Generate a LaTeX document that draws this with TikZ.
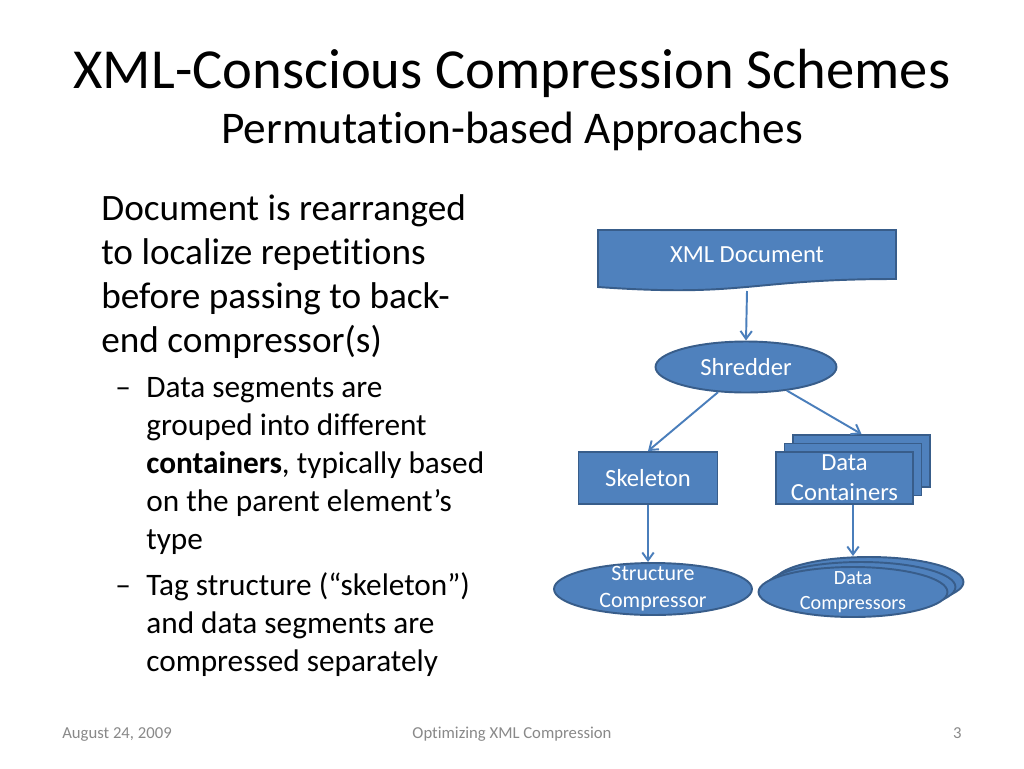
\documentclass[tikz,border=0pt]{standalone}
\usepackage{fontspec}
\setmainfont[Ligatures={NoCommon}]{Carlito}
\usetikzlibrary{arrows.meta, calc, positioning, shapes.geometric}
\definecolor{boxfill}{RGB}{79, 129, 189}
\definecolor{boxline}{RGB}{56, 93, 138}
\definecolor{arrowblue}{RGB}{74, 126, 187}
\definecolor{footgray}{RGB}{137, 137, 137}

\begin{document}
\begin{tikzpicture}[x=0.02cm, y=-0.02cm,
				titletext/.style={font=\fontsize{32.2}{38}\selectfont, anchor=base, inner sep=0pt},
				subtitletext/.style={font=\fontsize{25.8}{30}\selectfont, anchor=base, inner sep=0pt},
				bodyline/.style={font=\fontsize{21.2}{26}\selectfont, anchor=base west, inner sep=0pt},
				subline/.style={font=\fontsize{17.8}{21}\selectfont, anchor=base west, inner sep=0pt},
				footer/.style={font=\fontsize{9.5}{11}\selectfont, text=footgray, anchor=base, inner sep=0pt},
				procbox/.style={draw=boxline, fill=boxfill, line width=1.1pt, text=white,
					align=center, inner sep=1pt, font=\fontsize{14}{17}\selectfont},
				procoval/.style={ellipse, draw=boxline, fill=boxfill, line width=1.1pt, inner sep=0pt},
				ovaltext/.style={text=white, align=center, inner sep=0pt},
				arr/.style={-{Straight Barb[length=4.5pt, width=6.5pt]}, draw=arrowblue, line width=1.1pt}
				]
				\useasboundingbox[fill=white] (0,0) rectangle (1024,768);
				% heading
				\node[titletext] (title) at (512,88) {XML-Conscious Compression Schemes};
				\node[subtitletext] (subtitle) at (512,143) {Permutation-based Approaches};
				% left column
				\foreach \txt [count=\i from 0] in {Document is rearranged, to localize repetitions,
					before passing to back-, end compressor(s)}
				\node[bodyline] (body\i) at (101,220+44*\i) {\txt};
				\foreach \txt [count=\i from 0] in {Data segments are, grouped into different,
					{\textbf{containers}, typically based}, on the parent element’s, type}
				\node[subline] (segs\i) at (146,397+38*\i) {\txt};
				\foreach \txt [count=\i from 0] in {Tag structure (“skeleton”), and data segments are,
					compressed separately}
				\node[subline] (tags\i) at (146,595+38*\i) {\txt};
				\node[subline] (dashA) at (115,397) {–};
				\node[subline] (dashB) at (115,595) {–};
				% diagram
				\draw[boxline, fill=boxfill, line width=1.1pt] (598,230) -- (896,230)
				-- (896,279) .. controls (747,279) and (747,297.5) .. (598,287) -- cycle;
				\node[minimum width=5.96cm, minimum height=0.98cm, inner sep=0pt,
				text=white, font=\fontsize{14}{17}\selectfont] (xmldoc) at (747,254.5) {XML Document};
				\coordinate (docbot) at (747,291);
				\node[procoval, minimum width=3.62cm, minimum height=1.02cm,
				text=white, font=\fontsize{14}{17}\selectfont] (shred) at (746,367) {Shredder};
				\node[procbox, minimum width=2.78cm, minimum height=1.04cm] (skel) at (648,478) {Skeleton};
				\node[procbox, minimum width=2.74cm, minimum height=1.04cm] (cont3) at (861.5,461) {};
				\node[procbox, minimum width=2.74cm, minimum height=1.04cm] (cont2) at (853,469.5) {};
				\node[procbox, minimum width=2.74cm, minimum height=1.04cm] (cont) at (844.5,478)
				{Data\\Containers};
				\node[procoval, minimum width=3.96cm, minimum height=1.04cm,
				label={[ovaltext, font=\fontsize{12.5}{15.5}\selectfont]center:Structure\\Compressor}]
				(strcomp) at (653,589) {};
				\node[procoval, minimum width=3.78cm, minimum height=1.0cm] (dcomp3) at (869,582) {};
				\node[procoval, minimum width=3.78cm, minimum height=1.0cm] (dcomp2) at (861,587) {};
				\node[procoval, minimum width=3.78cm, minimum height=1.0cm,
				label={[ovaltext, font=\fontsize{11.5}{14.5}\selectfont]center:Data\\Compressors}]
				(dcomp) at (853,592) {};
				\draw[arr] (docbot) -- (shred.north);
				\draw[arr] (shred.222) -- (skel.north);
				\draw[arr] (shred.-30) -- (cont3.north);
				\draw[arr] (skel.south) -- (skel.south |- strcomp.north);
				\draw[arr] (cont.south -| dcomp.north) -- (dcomp.north |- dcomp3.north);
				% footer
				\node[footer] (date) at (117,738) {August 24, 2009};
				\node[footer] (talk) at (512,738) {Optimizing XML Compression};
				\node[footer, anchor=base east] (page) at (962,738) {3};
			\end{tikzpicture}
\end{document}
